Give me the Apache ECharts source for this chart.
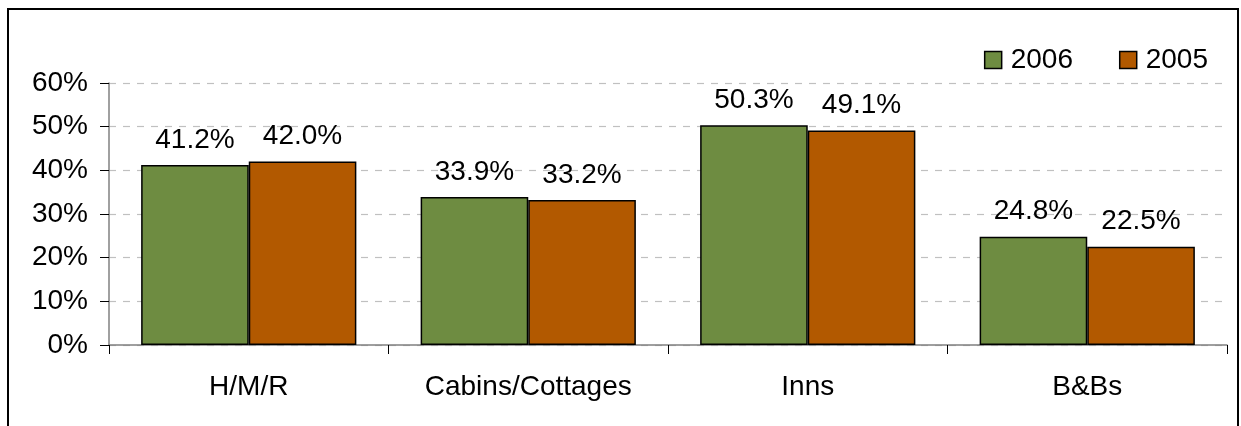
<!DOCTYPE html>
<html>
<head>
<meta charset="utf-8">
<script src="https://cdn.jsdelivr.net/npm/echarts@6/dist/echarts.min.js"></script>
<style>
  html, body { margin: 0; padding: 0; background: #fff; }
  #chart { width: 1241px; height: 426px; }
</style>
</head>
<body>
<div id="chart"></div>
<script>
// Occupancy share by property type, 2006 vs 2005
const categories = ['H/M/R', 'Cabins/Cottages', 'Inns', 'B&Bs'];
const seriesNames = ['2006', '2005'];
const values2006 = [41.2, 33.9, 50.3, 24.8];
const values2005 = [42.0, 33.2, 49.1, 22.5];
const yTicks = [0, 10, 20, 30, 40, 50, 60];

const FONT = '"Liberation Sans", Arial, sans-serif';
const FS = 28;
const GREEN = '#6E8C41';
const ORANGE = '#B25900';

const chart = echarts.init(document.getElementById('chart'));

function barSeries(name, data, color) {
  return {
    name: name,
    type: 'bar',
    data: data,
    barGap: '0%',
    barCategoryGap: '23%',
    itemStyle: { color: color, borderColor: '#000', borderWidth: 1.5 },
    label: {
      show: true,
      position: 'top',
      distance: 11,
      formatter: p => p.value.toFixed(1) + '%',
      fontFamily: FONT,
      fontSize: FS,
      color: '#000'
    }
  };
}

chart.setOption({
  animation: false,
  backgroundColor: '#fff',
  graphic: [{
    type: 'rect',
    shape: { x: 8, y: 9, width: 1230, height: 440 },
    style: { fill: 'none', stroke: '#000', lineWidth: 2 },
    z: 100
  }],
  legend: {
    data: seriesNames,
    right: 28,
    top: 41,
    itemWidth: 17,
    itemHeight: 17,
    itemGap: 46,
    icon: 'rect',
    itemStyle: { borderColor: '#000', borderWidth: 1.5 },
    textStyle: { fontFamily: FONT, fontSize: FS, color: '#000', padding: [0, 0, 0, 4] }
  },
  grid: { left: 109, right: 14, top: 83, bottom: 81, containLabel: false },
  xAxis: {
    type: 'category',
    data: categories,
    axisLine: { show: true, lineStyle: { color: '#808080', width: 1.5 } },
    axisTick: { show: true, length: 9, lineStyle: { color: '#000', width: 1 } },
    axisLabel: { fontFamily: FONT, fontSize: FS, color: '#000', margin: 28 }
  },
  yAxis: {
    type: 'value',
    min: yTicks[0],
    max: yTicks[yTicks.length - 1],
    interval: 10,
    axisLine: { show: true, lineStyle: { color: '#808080', width: 1.5 } },
    axisTick: { show: true, length: 9, lineStyle: { color: '#000', width: 1 } },
    axisLabel: {
      fontFamily: FONT, fontSize: FS, color: '#000', margin: 21,
      formatter: v => v + '%'
    },
    splitLine: { show: true, lineStyle: { color: '#C0C0C0', type: [7, 7], width: 1.2 } }
  },
  series: [
    barSeries(seriesNames[0], values2006, GREEN),
    barSeries(seriesNames[1], values2005, ORANGE)
  ]
});
</script>
</body>
</html>
